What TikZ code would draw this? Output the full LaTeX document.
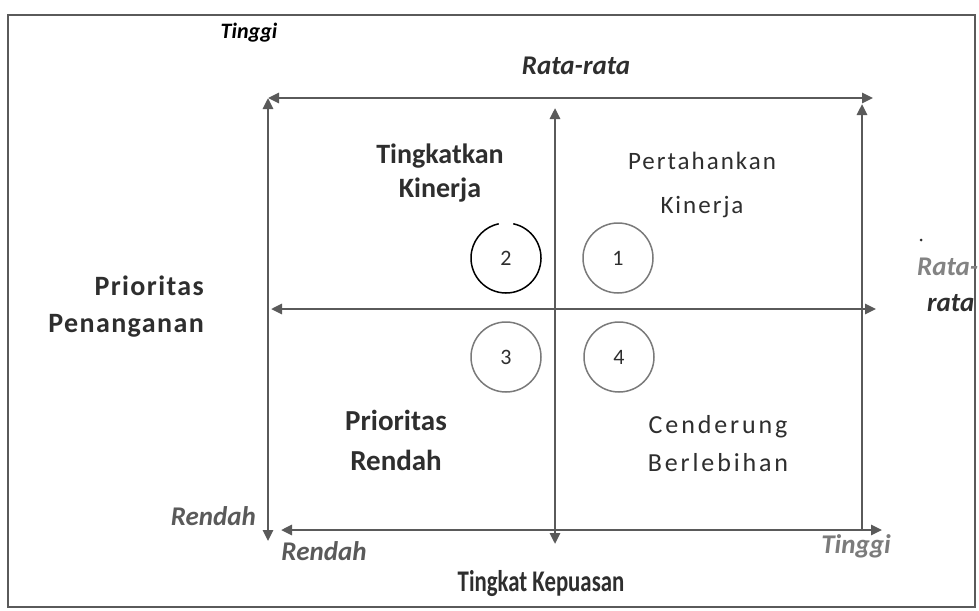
\documentclass[tikz,border=0pt]{standalone}
\usepackage{fontspec}
\setmainfont{Carlito}
\newfontfamily\spaced[LetterSpace=8]{Carlito}
\newfontfamily\spacedmore[LetterSpace=11]{Carlito}
\newfontfamily\widebold[LetterSpace=5]{Carlito}
\newfontfamily\narrowbold[FakeStretch=0.76]{Carlito}
\usetikzlibrary{arrows.meta}

\definecolor{axisgray}{HTML}{5A5A5A}
\definecolor{textdark}{HTML}{2E2E2E}
\definecolor{ringgray}{HTML}{7A7A7A}

\tikzset{
  axisline/.style={draw=axisgray, line width=2.6pt,
    arrows={-Triangle[length=11pt,width=10pt]}},
  twoway/.style={axisline, arrows={Triangle[length=11pt,width=10pt]-Triangle[length=11pt,width=10pt]}},
  boldlabel/.style={font=\fontsize{28}{34}\selectfont\bfseries, text=textdark, align=center, inner sep=0pt},
  lightlabel/.style={font=\fontsize{25}{44}\selectfont\spaced, text=textdark, align=center, inner sep=0pt},
  axislabel/.style={font=\fontsize{27}{30}\selectfont\bfseries\itshape, text=axisgray, inner sep=0pt},
  ring/.style={circle, draw=ringgray, line width=1.5pt, minimum size=70pt, inner sep=0pt,
    font=\fontsize{22}{24}\selectfont, text=textdark},
  ringline/.style={line width=1.5pt}
}

\begin{document}
\begin{tikzpicture}[x=1pt,y=-1pt]
\useasboundingbox (0,0) rectangle (979,610);
\fill[white] (0,0) rectangle (979,610);

% outer frame
\draw[axisgray, line width=2pt] (8,15) rectangle (975,607);

% axis end points
\coordinate (TL) at (268,98);
\coordinate (TR) at (873,98);
\coordinate (LB) at (268,541);
\coordinate (MT) at (555,108);
\coordinate (MB) at (555,544);
\coordinate (RT) at (862,104);
\coordinate (RB) at (862,530);
\coordinate (HL) at (271,309);
\coordinate (HR) at (876,309);
\coordinate (BL) at (281,530);
\coordinate (BR) at (882,530);

% grid of axes
\draw[twoway] (TL) -- (TR);
\draw[twoway] (LB) -- (TL);
\draw[twoway] (MB) -- (MT);
\draw[axisline] (RB) -- (RT);
\draw[twoway] (HL) -- (HR);
\draw[twoway] (BL) -- (BR);

% quadrant numbers; ring 2 is black with a small break at its top
\node[ring, draw=none] (q2) at (506,258) {2};
\draw[ringline, black] (q2.center) ++(-78:35) arc[start angle=-78, end angle=258, radius=35];
\node[ring] (q1) at (618,258) {1};
\node[ring] (q3) at (506,357) {3};
\node[ring] (q4) at (619,357) {4};

% quadrant titles
\node[boldlabel] (tk) at (440,173) {Tingkatkan\\Kinerja};
\node[lightlabel] (pk) at (702,185) {Pertahankan\\Kinerja};
\node[boldlabel, font=\fontsize{29}{40}\selectfont\bfseries] (pr) at (396,440) {Prioritas\\Rendah};
\node[lightlabel, font=\fontsize{26}{38}\selectfont\spacedmore] (cb) at (718,444) {Cenderung\\Berlebihan};

% axis titles
\node[boldlabel, align=right, anchor=east, font=\fontsize{28}{37}\selectfont\widebold\bfseries] (pp) at (204,307) {Prioritas\\Penanganan};
\node[boldlabel, font=\fontsize{30}{34}\selectfont\narrowbold\bfseries] (kp) at (541,584) {Tingkat Kepuasan};

% scale labels
\node[axislabel, text=black, font=\fontsize{22}{26}\selectfont\bfseries\itshape] (yhigh) at (249,33) {Tinggi};
\node[axislabel, text=textdark] (xmid) at (576,66) {Rata-rata};
\node[axislabel, anchor=east] (ylow) at (256,516) {Rendah};
\node[axislabel] (xlow) at (324,551) {Rendah};
\node[axislabel, text=axisgray!80] (xhigh) at (856,546) {Tinggi};
\node[axislabel, anchor=west, text=axisgray!75] (ymid1) at (917,267) {Rata-};
\node[axislabel, anchor=west, text=textdark] (ymid2) at (927,303) {rata};
\fill[textdark] (921,240) circle (1.5pt);
\end{tikzpicture}
\end{document}
